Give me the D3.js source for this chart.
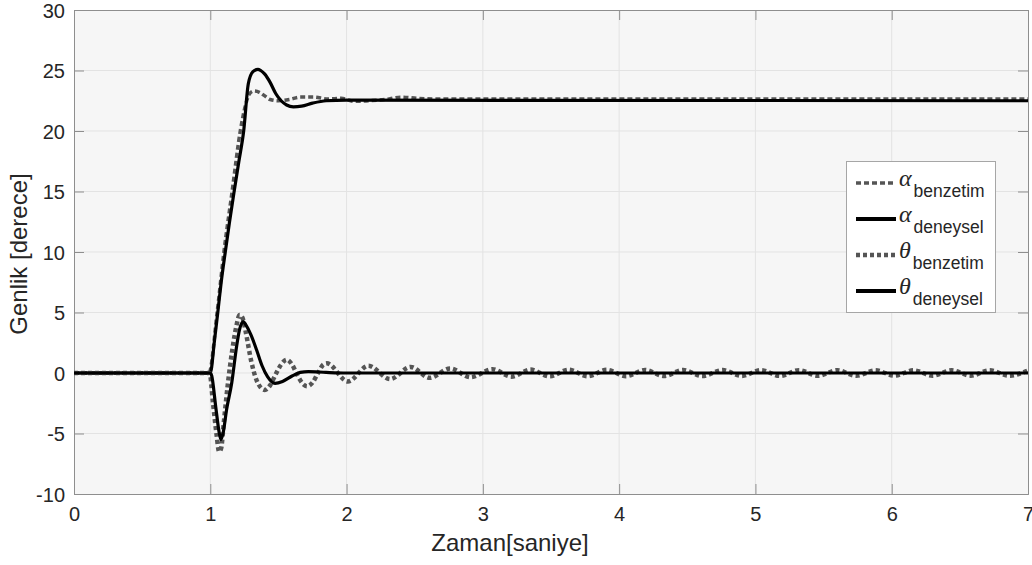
<!DOCTYPE html>
<html lang="tr">
<head>
<meta charset="UTF-8" />
<title>Genlik - Zaman</title>
<script src="https://cdn.jsdelivr.net/npm/d3@7"></script>
<style>
body{margin:0;background:#fff}
svg{display:block}
.tick text{font-family:"Liberation Sans",Arial,Helvetica,sans-serif;font-size:20px;fill:#262626}
</style>
</head>
<body>
<svg id="chart" width="1032" height="565"></svg>
<script>
/* ---- data (time in s, amplitude in degrees) ---- */
const xTicks=[0,1,2,3,4,5,6,7];
const yTicks=[-10,-5,0,5,10,15,20,25,30];

const alphaSimT=[0,0.99,1.05,1.10,1.16,1.22,1.26,1.29,1.32,1.36,1.40,1.44,1.50,1.58,1.66,1.76,1.86,1.96,2.06,2.16,2.28,2.40,2.52,2.64,7];
const alphaSimV=[0,0,5,10,15,20,22.2,23.1,23.3,23.2,22.9,22.6,22.5,22.6,22.8,22.8,22.65,22.7,22.45,22.5,22.6,22.8,22.7,22.65,22.65];

const alphaExpT=[0,1.0,1.03,1.055,1.08,1.11,1.14,1.175,1.21,1.245,1.279,1.313,1.35,1.37,1.40,1.44,1.48,1.52,1.56,1.61,1.67,1.75,1.85,2.0,7];
const alphaExpV=[0,0,2.6,5,7.5,10,12.4,15,17.5,20,23.9,24.9,25.1,25.0,24.7,24.0,23.1,22.5,22.15,22.0,22.05,22.3,22.5,22.55,22.5];

const thetaSimT=[0,0.995,1.02,1.045,1.065,1.08,1.10,1.13,1.16,1.19,1.215,1.235,1.26,1.30,1.34,1.40,1.44,1.48,1.52,1.56,1.60,1.64,1.68,1.71,1.75,1.79,1.83,1.855,
  2.01,2.16,2.32,2.47,2.61,2.76,2.91,3.07,3.21,3.35,3.49,3.63,3.77,3.91,4.05,4.19,4.33,4.47,4.61,4.76,4.90,5.04,5.18,5.32,5.46,5.60,5.74,5.88,6.02,6.16,6.30,6.44,6.58,6.72,6.86,7.0];
const thetaSimV=[0,0,-2.5,-5.0,-6.5,-6.2,-4.0,-0.8,1.8,3.8,4.8,4.6,3.4,1.0,-0.6,-1.4,-1.0,-0.1,0.7,1.1,0.7,-0.2,-0.9,-1.1,-0.8,0.0,0.7,0.8,
  -0.7,0.6,-0.5,0.5,-0.4,0.38,-0.35,0.32,-0.3,0.28,-0.28,0.27,-0.27,0.26,-0.26,0.25,-0.25,0.25,-0.25,0.24,-0.24,0.24,-0.24,0.23,-0.23,0.23,-0.23,0.22,-0.22,0.22,-0.22,0.22,-0.22,0.22,-0.22,0.2];

const thetaExpT=[0,1.0,1.01,1.04,1.065,1.078,1.095,1.12,1.157,1.193,1.215,1.242,1.26,1.30,1.34,1.38,1.42,1.475,1.53,1.60,1.66,1.72,1.85,2.0,7];
const thetaExpV=[0,0,-0.2,-2.8,-4.9,-5.5,-4.9,-3.0,-0.85,2.2,3.6,4.25,4.0,3.1,1.9,0.6,-0.3,-0.85,-0.7,-0.25,0.05,0.12,0.05,0,0];

const series=[
  {name:'benzetim',sym:'\u03b1',t:alphaSimT,v:alphaSimV,color:'#555',w:3.5,dash:'5 3'},
  {name:'deneysel',sym:'\u03b1',t:alphaExpT,v:alphaExpV,color:'#000',w:3.2,dash:null},
  {name:'benzetim',sym:'\u03b8',t:thetaSimT,v:thetaSimV,color:'#555',w:4.5,dash:'4 3'},
  {name:'deneysel',sym:'\u03b8',t:thetaExpT,v:thetaExpV,color:'#000',w:3.2,dash:null}
];

/* ---- layout ---- */
const svg=d3.select('#chart');
const L=74,R=1028,T=10,B=494;
const x=d3.scaleLinear().domain([0,7]).range([L,R]);
const y=d3.scaleLinear().domain([-10,30]).range([B,T]);
const axisCol='#8e8e8e',font='"Liberation Sans",Arial,Helvetica,sans-serif';

svg.append('rect').attr('x',L).attr('y',T).attr('width',R-L).attr('height',B-T).attr('fill','#f6f6f6');

/* grid */
const grid=svg.append('g').attr('stroke','#e3e3e3').attr('stroke-width',1);
grid.selectAll('.gx').data(xTicks.slice(1,-1)).join('line')
  .attr('x1',d=>x(d)).attr('x2',d=>x(d)).attr('y1',T).attr('y2',B);
grid.selectAll('.gy').data(yTicks.slice(1,-1)).join('line')
  .attr('y1',d=>y(d)).attr('y2',d=>y(d)).attr('x1',L).attr('x2',R);

/* axes, ticks inside on all four sides */
const fmt=d=>d<0?'-'+Math.abs(d):String(d);
const ax=[
  svg.append('g').attr('transform',`translate(0,${B})`).call(d3.axisBottom(x).tickValues(xTicks).tickSize(-10).tickPadding(18).tickFormat(fmt)),
  svg.append('g').attr('transform',`translate(0,${T})`).call(d3.axisTop(x).tickValues(xTicks).tickSize(-10).tickFormat('')),
  svg.append('g').attr('transform',`translate(${L},0)`).call(d3.axisLeft(y).tickValues(yTicks).tickSize(-10).tickPadding(9).tickFormat(fmt)),
  svg.append('g').attr('transform',`translate(${R},0)`).call(d3.axisRight(y).tickValues(yTicks).tickSize(-10).tickFormat(''))
];
ax.forEach(g=>{g.select('.domain').attr('stroke',axisCol);g.selectAll('.tick line').attr('stroke',axisCol)});
ax[0].selectAll('.tick text').attr('dy','0.45em');
ax[2].selectAll('.tick text').attr('dy','0.36em');

/* curves */
svg.append('clipPath').attr('id','clip').append('rect').attr('x',L).attr('y',T).attr('width',R-L).attr('height',B-T);
const line=d3.line().x(d=>x(d[0])).y(d=>y(d[1])).curve(d3.curveMonotoneX);
const plot=svg.append('g').attr('clip-path','url(#clip)');
series.forEach(s=>{
  plot.append('path').datum(d3.zip(s.t,s.v))
    .attr('fill','none').attr('stroke',s.color).attr('stroke-width',s.w)
    .attr('stroke-dasharray',s.dash).attr('stroke-linejoin','round')
    .attr('d',line);
});

/* axis labels */
svg.append('text').attr('x',510).attr('y',551).attr('text-anchor','middle')
  .attr('font-family',font).attr('font-size',24).attr('fill','#262626').text('Zaman[saniye]');
svg.append('text').attr('transform','translate(27,254) rotate(-90)').attr('text-anchor','middle')
  .attr('font-family',font).attr('font-size',24).attr('fill','#262626').text('Genlik [derece]');

/* legend */
const lg=svg.append('g');
lg.append('rect').attr('x',846.5).attr('y',161.5).attr('width',149).attr('height',151)
  .attr('fill','#fff').attr('stroke','#a6a6a6').attr('stroke-width',1);
series.forEach((s,i)=>{
  const ly=183+i*36;
  lg.append('line').attr('x1',856).attr('x2',896).attr('y1',ly).attr('y2',ly)
    .attr('stroke',s.color).attr('stroke-width',s.dash?s.w:4).attr('stroke-dasharray',s.dash);
  const t=lg.append('text').attr('x',899).attr('y',ly+3).attr('fill','#262626');
  t.append('tspan').attr('font-family','"Liberation Serif","Times New Roman",serif')
    .attr('font-style','italic').attr('font-size',24).text(s.sym);
  t.append('tspan').attr('font-family',font).attr('font-size',17.5).attr('dx',2).attr('dy',11).text(s.name);
});
</script>
</body>
</html>
